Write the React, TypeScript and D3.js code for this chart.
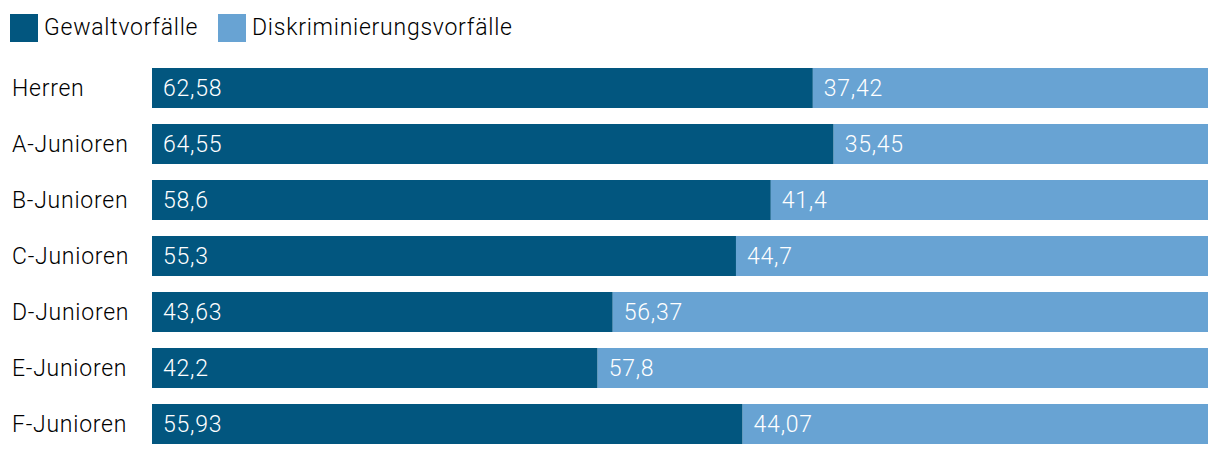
import React from 'react';
import * as d3 from 'd3';

const categories = ['Herren', 'A-Junioren', 'B-Junioren', 'C-Junioren', 'D-Junioren', 'E-Junioren', 'F-Junioren'];
const gewalt = [62.58, 64.55, 58.6, 55.3, 43.63, 42.2, 55.93];
const diskriminierung = [37.42, 35.45, 41.4, 44.7, 56.37, 57.8, 44.07];
const seriesNames = ['Gewaltvorfälle', 'Diskriminierungsvorfälle'];
const colors = ['#02567f', '#68a3d3'];

const W = 1220;
const H = 456;
const font = 'Roboto, sans-serif';
const fmt = (v: number) => String(v).replace('.', ',');

export default function App() {
  const x = d3.scaleLinear().domain([0, 100]).range([152, 1208]);
  const y = d3.scaleBand().domain(categories).range([60, 452]).paddingInner(16 / 56).paddingOuter(8 / 56);

  const rows = categories.map((c, i) => ({ c, vals: [gewalt[i], diskriminierung[i]] }));
  const legendX = [10, 218];

  return (
    <svg width={W} height={H} style={{ position: 'absolute', left: 0, top: 0, fontFamily: font, fontWeight: 300, letterSpacing: 0.75 }}>
      {seriesNames.map((s, i) => (
        <g key={s} transform={`translate(${legendX[i]},14)`}>
          <rect width={28} height={28} fill={colors[i]} />
          <text x={34} y={21} fontSize={23} fill="#000">{s}</text>
        </g>
      ))}
      {rows.map((r) => {
        let acc = 0;
        const yy = y(r.c) as number;
        return (
          <g key={r.c}>
            <text x={12} y={yy + 28} fontSize={23} fill="#000">{r.c}</text>
            {r.vals.map((v, j) => {
              const x0 = x(acc);
              acc += v;
              const x1 = x(acc);
              return (
                <g key={j}>
                  <rect x={x0} y={yy} width={x1 - x0} height={y.bandwidth()} fill={colors[j]} />
                  <text x={x0 + 11} y={yy + 28} fontSize={23} fill="#fff">{fmt(v)}</text>
                </g>
              );
            })}
          </g>
        );
      })}
    </svg>
  );
}
